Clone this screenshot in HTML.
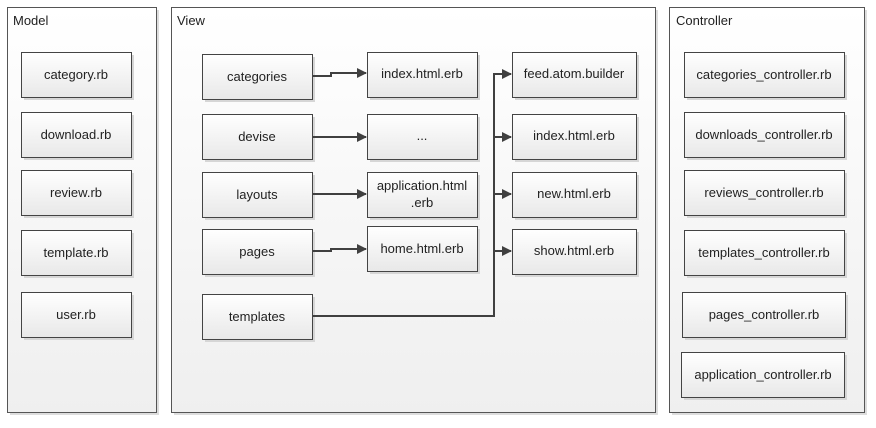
<!DOCTYPE html>
<html><head><meta charset="utf-8"><style>
html,body{margin:0;padding:0;background:#fff;}
svg{display:block;font-family:"Liberation Sans",sans-serif;}
text{font-size:13px;fill:#222;}
.t{text-anchor:middle;}
.s{fill:#d6d6d6;stroke:none;}
.b{fill:url(#b);stroke:#444;stroke-width:1;}
</style></head><body>
<svg width="876" height="428" viewBox="0 0 876 428">
<defs>
<linearGradient id="c" x1="0" y1="0" x2="0" y2="1"><stop offset="0" stop-color="#ffffff"/><stop offset="1" stop-color="#efefef"/></linearGradient>
<linearGradient id="b" x1="0" y1="0" x2="0" y2="1"><stop offset="0" stop-color="#ffffff"/><stop offset="1" stop-color="#e8e8e8"/></linearGradient>
<marker id="a" markerWidth="10" markerHeight="10" refX="9" refY="5" orient="auto" markerUnits="userSpaceOnUse"><path d="M0,0 L10,5 L0,10 z" fill="#404040"/></marker>
</defs>
<g stroke="#555" stroke-width="1">
<rect x="10" y="10" width="149" height="405" fill="#ddd" stroke="none"/>
<rect x="7.5" y="7.5" width="149" height="405" fill="url(#c)"/>
<rect x="174" y="10" width="484" height="405" fill="#ddd" stroke="none"/>
<rect x="171.5" y="7.5" width="484" height="405" fill="url(#c)"/>
<rect x="672" y="10" width="195" height="405" fill="#ddd" stroke="none"/>
<rect x="669.5" y="7.5" width="195" height="405" fill="url(#c)"/>
</g>
<text x="13" y="25">Model</text>
<text x="177" y="25">View</text>
<text x="676" y="25">Controller</text>

<!-- Model -->
<rect class="s" x="24" y="55" width="110" height="45"/><rect class="b" x="21.5" y="52.5" width="110" height="45"/><text class="t" x="76" y="79">category.rb</text>
<rect class="s" x="24" y="115" width="110" height="45"/><rect class="b" x="21.5" y="112.5" width="110" height="45"/><text class="t" x="76" y="139">download.rb</text>
<rect class="s" x="24" y="173" width="110" height="45"/><rect class="b" x="21.5" y="170.5" width="110" height="45"/><text class="t" x="76" y="197">review.rb</text>
<rect class="s" x="24" y="233" width="110" height="45"/><rect class="b" x="21.5" y="230.5" width="110" height="45"/><text class="t" x="76" y="257">template.rb</text>
<rect class="s" x="24" y="295" width="110" height="45"/><rect class="b" x="21.5" y="292.5" width="110" height="45"/><text class="t" x="76" y="319">user.rb</text>

<!-- View left -->
<rect class="s" x="205" y="57" width="110" height="45"/><rect class="b" x="202.5" y="54.5" width="110" height="45"/><text class="t" x="257" y="81">categories</text>
<rect class="s" x="205" y="117" width="110" height="45"/><rect class="b" x="202.5" y="114.5" width="110" height="45"/><text class="t" x="257" y="141">devise</text>
<rect class="s" x="205" y="175" width="110" height="45"/><rect class="b" x="202.5" y="172.5" width="110" height="45"/><text class="t" x="257" y="199">layouts</text>
<rect class="s" x="205" y="232" width="110" height="45"/><rect class="b" x="202.5" y="229.5" width="110" height="45"/><text class="t" x="257" y="256">pages</text>
<rect class="s" x="205" y="297" width="110" height="45"/><rect class="b" x="202.5" y="294.5" width="110" height="45"/><text class="t" x="257" y="321">templates</text>

<!-- View middle -->
<rect class="s" x="370" y="55" width="110" height="45"/><rect class="b" x="367.5" y="52.5" width="110" height="45"/><text class="t" x="422" y="78">index.html.erb</text>
<rect class="s" x="370" y="117" width="110" height="45"/><rect class="b" x="367.5" y="114.5" width="110" height="45"/><text class="t" x="422" y="140">...</text>
<rect class="s" x="370" y="175" width="110" height="45"/><rect class="b" x="367.5" y="172.5" width="110" height="45"/><text class="t" x="422" y="190">application.html</text><text class="t" x="422" y="207">.erb</text>
<rect class="s" x="370" y="229" width="110" height="45"/><rect class="b" x="367.5" y="226.5" width="110" height="45"/><text class="t" x="422" y="253">home.html.erb</text>

<!-- View right -->
<rect class="s" x="515" y="55" width="124" height="45"/><rect class="b" x="512.5" y="52.5" width="124" height="45"/><text class="t" x="574" y="78">feed.atom.builder</text>
<rect class="s" x="515" y="117" width="124" height="45"/><rect class="b" x="512.5" y="114.5" width="124" height="45"/><text class="t" x="574" y="140">index.html.erb</text>
<rect class="s" x="515" y="175" width="124" height="45"/><rect class="b" x="512.5" y="172.5" width="124" height="45"/><text class="t" x="574" y="198">new.html.erb</text>
<rect class="s" x="515" y="232" width="124" height="45"/><rect class="b" x="512.5" y="229.5" width="124" height="45"/><text class="t" x="574" y="255">show.html.erb</text>

<!-- Controller -->
<rect class="s" x="687" y="55" width="160" height="45"/><rect class="b" x="684.5" y="52.5" width="160" height="45"/><text class="t" x="764" y="79">categories_controller.rb</text>
<rect class="s" x="687" y="115" width="160" height="45"/><rect class="b" x="684.5" y="112.5" width="160" height="45"/><text class="t" x="764" y="139">downloads_controller.rb</text>
<rect class="s" x="687" y="173" width="160" height="45"/><rect class="b" x="684.5" y="170.5" width="160" height="45"/><text class="t" x="764" y="197">reviews_controller.rb</text>
<rect class="s" x="687" y="233" width="160" height="45"/><rect class="b" x="684.5" y="230.5" width="160" height="45"/><text class="t" x="764" y="257">templates_controller.rb</text>
<rect class="s" x="685" y="295" width="163" height="45"/><rect class="b" x="682.5" y="292.5" width="163" height="45"/><text class="t" x="764" y="319">pages_controller.rb</text>
<rect class="s" x="684" y="355" width="163" height="45"/><rect class="b" x="681.5" y="352.5" width="163" height="45"/><text class="t" x="763" y="379">application_controller.rb</text>

<g stroke="#404040" stroke-width="2" fill="none">
<path d="M313,76 H331 V73 H366" marker-end="url(#a)"/>
<path d="M313,137 H366" marker-end="url(#a)"/>
<path d="M313,194 H366" marker-end="url(#a)"/>
<path d="M313,251 H331 V249 H366" marker-end="url(#a)"/>
<path d="M313,316 H494 V74 H511" marker-end="url(#a)"/>
<path d="M494,137 H511" marker-end="url(#a)"/>
<path d="M494,194 H511" marker-end="url(#a)"/>
<path d="M494,251 H511" marker-end="url(#a)"/>
</g>
</svg>
</body></html>
